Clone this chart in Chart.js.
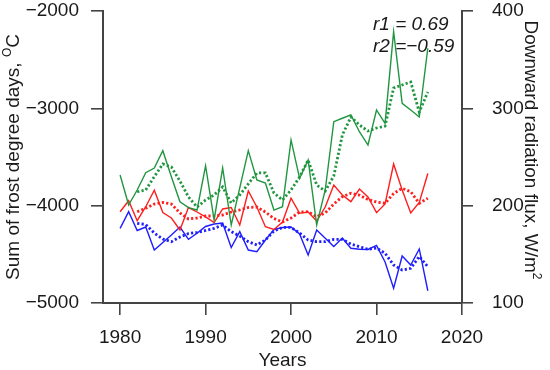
<!DOCTYPE html>
<html>
<head>
<meta charset="utf-8">
<script src="https://cdn.jsdelivr.net/npm/chart.js@4.4.1/dist/chart.umd.min.js"></script>
<style>
  html, body { margin: 0; padding: 0; background: #fff; }
  #wrap { width: 550px; height: 370px; }
</style>
</head>
<body>
<div id="wrap"><canvas id="chart" width="550" height="370"></canvas></div>
<script>
//-------------------------------------------------------------
// Data
//-------------------------------------------------------------
const years = [1980, 1981, 1982, 1983, 1984, 1985, 1986, 1987, 1988, 1989,
  1990, 1991, 1992, 1993, 1994, 1995, 1996, 1997, 1998, 1999,
  2000, 2001, 2002, 2003, 2004, 2005, 2006, 2007, 2008, 2009,
  2010, 2011, 2012, 2013, 2014, 2015, 2016];

// sum of frost degree days (left axis)
const frostDays = [-3685, -3993, -3839, -3661, -3613, -3435, -3702, -3960, -4020, -4045,
  -3590, -4147, -3613, -4199, -3818, -3435, -3736, -3767, -4045, -4010,
  -3325, -3719, -3531, -4199, -3839, -3137, -3102, -3068, -3240, -3377,
  -3017, -3154, -2212, -2948, -3017, -3089, -2383];
const frostDaysSmooth = [null, null, -3857, -3839, -3702, -3572, -3603, -3747, -3911, -4014,
  -3942, -3890, -3808, -3973, -3890, -3777, -3664, -3664, -3870, -3942,
  -3839, -3706, -3531, -3788, -3850, -3695, -3274, -3089, -3171, -3233,
  -3202, -3182, -2791, -2760, -2729, -3038, -2832];

// downward radiation flux (right axis)
const fluxRed = [193.8, 205.1, 184.6, 198.9, 215.8, 193.0, 187.3, 175.0, 198.1, 193.5,
  188.4, 182.7, 196.6, 198.1, 180.1, 215.1, 198.6, 178.4, 175.5, 183.2,
  207.6, 192.1, 193.5, 184.2, 198.6, 221.2, 210.9, 204.1, 217.1, 208.9,
  192.8, 201.7, 242.8, 216.1, 192.5, 203.3, 233.0];
const fluxRedSmooth = [null, null, 193.8, 197.3, 201.7, 203.3, 201.7, 192.5, 186.3, 187.3,
  189.4, 189.4, 190.4, 193.5, 195.6, 198.1, 198.6, 193.5, 186.8, 183.2,
  187.3, 193.5, 193.8, 188.7, 192.5, 201.7, 209.2, 212.7, 210.9, 206.3,
  203.8, 202.4, 212.5, 217.8, 214.4, 202.4, 207.6];
const fluxBlue = [176.7, 193.8, 174.5, 178.1, 154.4, 162.2, 169.9, 178.1, 165.4, 171.6,
  178.6, 181.2, 182.2, 157.0, 173.3, 154.4, 152.7, 164.7, 175.5, 177.6,
  178.1, 170.9, 149.3, 175.0, 166.5, 158.0, 166.8, 156.2, 155.2, 155.0,
  159.1, 142.1, 115.1, 148.3, 139.0, 155.5, 112.6];
const fluxBlueSmooth = [null, null, 181.9, 180.6, 171.9, 165.7, 163.0, 167.8, 171.4, 172.4,
  174.5, 176.7, 180.1, 173.3, 168.7, 163.0, 159.6, 164.7, 174.0, 177.6,
  177.6, 171.9, 164.7, 163.0, 163.0, 165.4, 165.4, 160.6, 157.8, 155.2,
  156.5, 151.1, 139.0, 133.9, 135.6, 147.8, 137.3];

const xTicks = [1980, 1990, 2000, 2010, 2020];
const leftTicks = [-5000, -4000, -3000, -2000];
const rightTicks = [100, 200, 300, 400];
const corrLabels = ["r1 = 0.69", "r2 =\u22120.59"];

//-------------------------------------------------------------
// Styling
//-------------------------------------------------------------
const FONT = "'Liberation Sans', Arial, sans-serif";
const TEXT = "#1a1a1a";
const AXIS = "#444444";
const GREEN = "#219640";
const RED = "#ff1e1e";
const BLUE = "#1e1eff";

function pts(arr) {
  return years.map((y, i) => ({ x: y, y: arr[i] }));
}

function line(label, arr, color, axis, dotted) {
  return {
    label,
    data: pts(arr),
    yAxisID: axis,
    borderColor: color,
    backgroundColor: color,
    borderWidth: dotted ? 2.8 : 1.4,
    borderDash: dotted ? [2.2, 2.2] : [],
    pointRadius: 0,
    tension: 0,
    spanGaps: false,
  };
}

// draws text with superscript parts, centred on (cx, baseY), rotated
function drawRich(ctx, parts, cx, baseY, angle, size) {
  ctx.save();
  ctx.translate(cx, baseY);
  ctx.rotate(angle);
  let total = 0;
  for (const p of parts) {
    ctx.font = (p.sup ? Math.round(size * 0.65) : size) + "px " + FONT;
    total += ctx.measureText(p.t).width;
  }
  let x = -total / 2;
  ctx.textAlign = "left";
  ctx.textBaseline = "alphabetic";
  for (const p of parts) {
    ctx.font = (p.sup ? Math.round(size * 0.65) : size) + "px " + FONT;
    ctx.fillText(p.t, x, p.sup ? -size * 0.42 : 0);
    x += ctx.measureText(p.t).width;
  }
  ctx.restore();
}

const textPlugin = {
  id: "textPlugin",
  afterDraw(chart) {
    const ctx = chart.ctx;
    ctx.save();
    ctx.fillStyle = TEXT;
    ctx.font = "19px " + FONT;
    ctx.textAlign = "center";
    ctx.textBaseline = "alphabetic";
    ctx.fillText("Years", 282.5, 366);

    drawRich(ctx, [{ t: "Sum of frost degree days, " }, { t: "O", sup: true }, { t: "C" }],
      18.5, 157, -Math.PI / 2, 19);
    drawRich(ctx, [{ t: "Downward radiation flux, W/m" }, { t: "2", sup: true }],
      525, 150, Math.PI / 2, 19);

    ctx.font = "italic 19px " + FONT;
    ctx.textAlign = "left";
    ctx.fillText(corrLabels[0], 373, 30);
    ctx.fillText(corrLabels[1], 373, 52);
    ctx.restore();
  },
};

//-------------------------------------------------------------
// Chart
//-------------------------------------------------------------
const tickFont = { family: FONT, size: 19 };

function fixVertical(width) {
  return (s) => { s.width = width; s.paddingTop = 0; s.paddingBottom = 0; };
}

new Chart(document.getElementById("chart"), {
  type: "line",
  data: {
    datasets: [
      line("Frost days", frostDays, GREEN, "y", false),
      line("Frost days (smoothed)", frostDaysSmooth, GREEN, "y", true),
      line("Flux 1", fluxRed, RED, "y1", false),
      line("Flux 1 (smoothed)", fluxRedSmooth, RED, "y1", true),
      line("Flux 2", fluxBlue, BLUE, "y1", false),
      line("Flux 2 (smoothed)", fluxBlueSmooth, BLUE, "y1", true),
    ],
  },
  options: {
    responsive: false,
    animation: false,
    layout: { padding: { top: 11, left: 0, right: 0, bottom: 0 } },
    plugins: { legend: { display: false }, tooltip: { enabled: false } },
    scales: {
      x: {
        type: "linear",
        min: 1978,
        max: 2020,
        afterBuildTicks: (s) => { s.ticks = xTicks.map((v) => ({ value: v })); },
        afterFit: (s) => { s.height = 67; s.paddingLeft = 0; s.paddingRight = 0; },
        ticks: { color: TEXT, font: tickFont, padding: 11, maxRotation: 0,
          callback: (v) => String(v) },
        grid: { drawOnChartArea: false, tickLength: 12, tickColor: AXIS, lineWidth: 1.6 },
        border: { color: AXIS, width: 2 },
      },
      y: {
        position: "left",
        min: -5000,
        max: -2000,
        afterBuildTicks: (s) => { s.ticks = leftTicks.map((v) => ({ value: v })); },
        afterFit: fixVertical(103),
        ticks: { color: TEXT, font: tickFont, padding: 12,
          callback: (v) => String(v).replace("-", "\u2212") },
        grid: { drawOnChartArea: false, tickLength: 12, tickColor: AXIS, lineWidth: 1.6 },
        border: { color: AXIS, width: 2 },
      },
      y1: {
        position: "right",
        min: 100,
        max: 400,
        afterBuildTicks: (s) => { s.ticks = rightTicks.map((v) => ({ value: v })); },
        afterFit: fixVertical(88),
        ticks: { color: TEXT, font: tickFont, padding: 19, callback: (v) => String(v) },
        grid: { drawOnChartArea: false, tickLength: 11, tickColor: AXIS, lineWidth: 1.6 },
        border: { color: AXIS, width: 2 },
      },
    },
  },
  plugins: [textPlugin],
});
</script>
</body>
</html>
